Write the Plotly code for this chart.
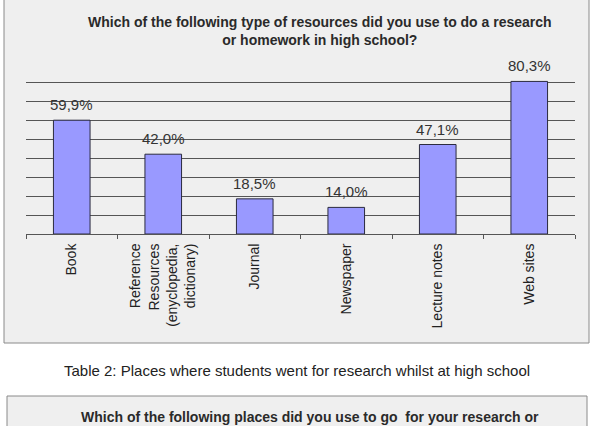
import plotly.graph_objects as go

categories = ["Book", "Reference Resources (enyclopedia, dictionary)", "Journal",
              "Newspaper", "Lecture notes", "Web sites"]
tick_labels = ["Book", "Reference<br>Resources<br>(enyclopedia,<br>dictionary)", "Journal",
               "Newspaper", "Lecture notes", "Web sites"]
values = [59.9, 42.0, 18.5, 14.0, 47.1, 80.3]
value_labels = ["59,9%", "42,0%", "18,5%", "14,0%", "47,1%", "80,3%"]

title1 = "Which of the following type of resources did you use to do a research<br>or homework in high school?"
caption = "Table 2: Places where students went for research whilst at high school"
title2 = "Which of the following places did you use to go  for your research or"

W, H = 594, 426
def py(px):
    return 1 - px / H
def pxx(px):
    return px / W

fig = go.Figure()
fig.add_trace(go.Bar(
    x=categories, y=values,
    marker=dict(color="#9999ff", line=dict(color="#2b2b3f", width=1)),
    width=0.4, hoverinfo="skip",
))

for c, v, t in zip(categories, values, value_labels):
    fig.add_annotation(x=c, y=v, xref="x", yref="y", text=t, showarrow=False,
                       yanchor="bottom", yshift=5,
                       font=dict(family="Liberation Sans, Arial", size=15, color="#333333"))

fig.update_layout(
    width=W, height=H,
    margin=dict(l=0, r=0, t=0, b=0),
    paper_bgcolor="white",
    plot_bgcolor="rgba(0,0,0,0)",
    showlegend=False,
    xaxis=dict(domain=[pxx(26), pxx(575)], tickmode="array", tickvals=categories,
               ticktext=tick_labels, tickangle=-90, tickson="boundaries",
               ticks="outside", ticklen=4, tickcolor="#555555", ticklabelstandoff=3,
               showline=True, linecolor="#555555", linewidth=1, showgrid=False,
               tickfont=dict(family="Liberation Sans, Arial", size=14, color="#222222")),
    yaxis=dict(domain=[py(234), py(63)], range=[0, 90], dtick=10, showticklabels=False,
               showgrid=True, gridcolor="#555555", gridwidth=1, zeroline=False,
               showline=False, ticks=""),
    shapes=[
        dict(type="rect", xref="paper", yref="paper", x0=pxx(4), x1=pxx(589),
             y0=py(343), y1=py(-2), fillcolor="#efefef", line=dict(color="#8a8a8a", width=1),
             layer="below"),
        dict(type="rect", xref="paper", yref="paper", x0=pxx(7), x1=pxx(587),
             y0=py(440), y1=py(396), fillcolor="#efefef", line=dict(color="#8a8a8a", width=1),
             layer="below"),
    ],
    annotations=list(fig.layout.annotations) + [
        dict(text="<b>" + title1 + "</b>", xref="paper", yref="paper", x=pxx(320), y=py(31),
             xanchor="center", yanchor="middle", showarrow=False,
             font=dict(family="Liberation Sans, Arial", size=14, color="#2a2a2a")),
        dict(text=caption, xref="paper", yref="paper", x=pxx(297), y=py(370),
             xanchor="center", yanchor="middle", showarrow=False,
             font=dict(family="Liberation Sans, Arial", size=15, color="#222222")),
        dict(text="<b>" + title2 + "</b>", xref="paper", yref="paper", x=pxx(310), y=py(417),
             xanchor="center", yanchor="middle", showarrow=False,
             font=dict(family="Liberation Sans, Arial", size=14, color="#2a2a2a")),
    ],
)

fig.write_html("out.html")
